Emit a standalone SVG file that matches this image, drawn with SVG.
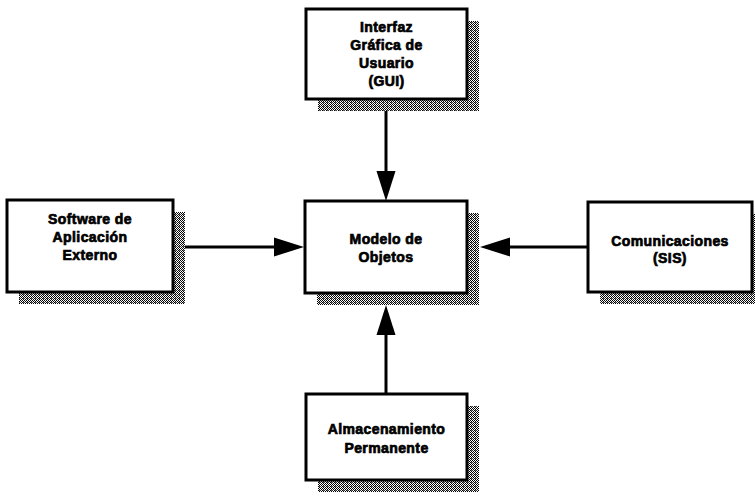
<svg xmlns="http://www.w3.org/2000/svg" width="755" height="497" viewBox="0 0 755 497">
  <style>
    .box { fill: #ffffff; stroke: #000000; stroke-width: 3; }
    .shadow { fill: url(#stipple); }
    .label { font-family: "Liberation Sans", Arial, sans-serif; font-weight: bold; font-size: 14px; letter-spacing: 0.4px; text-anchor: middle; fill: #000000; stroke: #000000; stroke-width: 0.7px; }
    .link { stroke: #000000; stroke-width: 3; fill: none; marker-end: url(#head); }
  </style>
  <defs>
    <!-- dithered grey used for the drop shadows -->
    <pattern id="stipple" width="4" height="4" patternUnits="userSpaceOnUse">
      <rect width="4" height="4" fill="#ffffff"/>
      <rect x="0" y="0" width="1" height="1" fill="#000"/>
      <rect x="2" y="0" width="1" height="1" fill="#000"/>
      <rect x="1" y="1" width="1" height="1" fill="#000"/>
      <rect x="3" y="1" width="1" height="1" fill="#000"/>
      <rect x="0" y="2" width="1" height="1" fill="#333"/>
      <rect x="2" y="2" width="1" height="1" fill="#000"/>
      <rect x="1" y="3" width="1" height="1" fill="#000"/>
      <rect x="3" y="3" width="1" height="1" fill="#000"/>
      <rect x="3" y="2" width="1" height="1" fill="#777"/>
    </pattern>
    <marker id="head" markerUnits="userSpaceOnUse" markerWidth="32" markerHeight="22" viewBox="0 0 32 22" refX="21" refY="11" orient="auto">
      <path d="M1,1.5 L31,11 L1,20.5 Z" fill="#000000"/>
    </marker>
  </defs>

  <!-- connectors -->
  <g id="connectors">
    <line class="link" x1="386" y1="111" x2="386" y2="191"/>
    <line class="link" x1="386" y1="394" x2="386" y2="315"/>
    <line class="link" x1="185" y1="247" x2="294" y2="247"/>
    <line class="link" x1="588" y1="247" x2="490" y2="247"/>
  </g>

  <g id="gui">
    <rect class="shadow" x="318" y="21" width="161" height="90"/>
    <rect class="box" x="306" y="9" width="161" height="90"/>
    <text class="label" x="386.5" y="32">Interfaz</text>
    <text class="label" x="386.5" y="50">Gráfica de</text>
    <text class="label" x="386.5" y="68">Usuario</text>
    <text class="label" x="386.5" y="86">(GUI)</text>
  </g>

  <g id="software-externo">
    <rect class="shadow" x="19" y="212" width="166" height="92"/>
    <rect class="box" x="7" y="200" width="166" height="92"/>
    <text class="label" x="90" y="224">Software de</text>
    <text class="label" x="90" y="242">Aplicación</text>
    <text class="label" x="90" y="260">Externo</text>
  </g>

  <g id="modelo-objetos">
    <rect class="shadow" x="317" y="213" width="162" height="92"/>
    <rect class="box" x="305" y="201" width="162" height="92"/>
    <text class="label" x="386" y="244">Modelo de</text>
    <text class="label" x="386" y="262">Objetos</text>
  </g>

  <g id="comunicaciones">
    <rect class="shadow" x="600" y="214" width="164" height="90"/>
    <rect class="box" x="588" y="202" width="164" height="90"/>
    <text class="label" x="670" y="246">Comunicaciones</text>
    <text class="label" x="670" y="263">(SIS)</text>
  </g>

  <g id="almacenamiento">
    <rect class="shadow" x="318" y="406" width="161" height="86"/>
    <rect class="box" x="306" y="394" width="161" height="86"/>
    <text class="label" x="386.5" y="434">Almacenamiento</text>
    <text class="label" x="386.5" y="453">Permanente</text>
  </g>
</svg>
